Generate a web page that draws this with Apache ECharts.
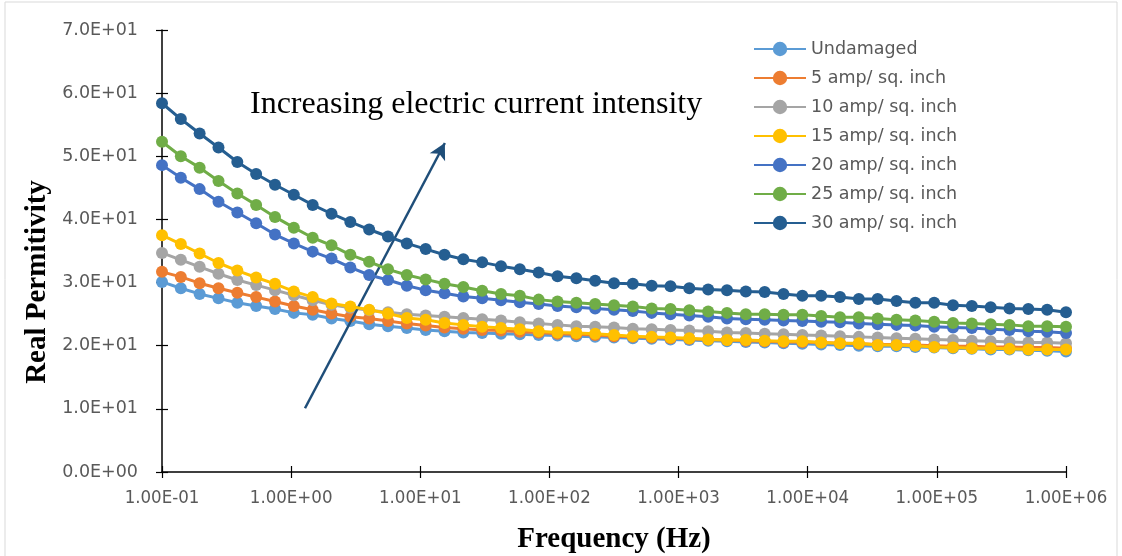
<!DOCTYPE html>
<html>
<head>
<meta charset="utf-8">
<script src="https://cdn.jsdelivr.net/npm/echarts@6/dist/echarts.min.js"></script>
<style>
html,body{margin:0;padding:0;background:#fff;}
#chart{width:1122px;height:556px;}
</style>
</head>
<body>
<div id="chart"></div>
<script>
// Frequency (Hz)
var freqHz = [0.1, 0.1399, 0.1956, 0.2738, 0.3831, 0.5359, 0.7499, 1.049, 1.468, 2.054,
  2.873, 4.019, 5.623, 7.867, 11.01, 15.40, 21.54, 30.14, 42.17, 59.00,
  82.54, 115.5, 161.6, 226.0, 316.2, 442.4, 619.0, 866.0, 1211, 1695,
  2371, 3318, 4642, 6494, 9085, 12711, 17783, 24879, 34807, 48697,
  68129, 95316, 133352, 186566, 261016, 365174, 510897, 714765, 1000000];

var undamaged = [30.1, 29.1, 28.2, 27.5, 26.8, 26.3, 25.8, 25.2, 24.9, 24.3,
  23.9, 23.4, 23.1, 22.8, 22.5, 22.3, 22.1, 22.0, 21.9, 21.8,
  21.7, 21.6, 21.5, 21.4, 21.3, 21.2, 21.1, 21.0, 20.9, 20.8,
  20.7, 20.6, 20.5, 20.4, 20.3, 20.2, 20.1, 20.0, 19.9, 19.9,
  19.8, 19.7, 19.6, 19.5, 19.4, 19.4, 19.3, 19.2, 19.1];
var amp5 = [31.7, 30.9, 29.9, 29.1, 28.4, 27.7, 27.0, 26.3, 25.7, 25.1,
  24.6, 24.3, 23.9, 23.5, 23.2, 22.9, 22.7, 22.5, 22.4, 22.2,
  22.1, 21.9, 21.8, 21.7, 21.5, 21.4, 21.3, 21.2, 21.1, 21.0,
  20.9, 20.8, 20.7, 20.6, 20.6, 20.5, 20.4, 20.3, 20.2, 20.2,
  20.1, 20.0, 19.9, 19.9, 19.8, 19.8, 19.7, 19.7, 19.6];
var amp10 = [34.7, 33.6, 32.5, 31.4, 30.4, 29.6, 28.8, 28.0, 27.2, 26.5,
  26.0, 25.6, 25.3, 25.0, 24.8, 24.6, 24.4, 24.2, 24.0, 23.7,
  23.5, 23.3, 23.1, 23.0, 22.9, 22.7, 22.6, 22.5, 22.4, 22.3,
  22.1, 22.0, 21.9, 21.8, 21.7, 21.6, 21.5, 21.4, 21.3, 21.2,
  21.1, 21.0, 20.9, 20.8, 20.7, 20.6, 20.5, 20.5, 20.4];
var amp15 = [37.5, 36.1, 34.6, 33.1, 31.9, 30.8, 29.8, 28.6, 27.7, 26.7,
  26.2, 25.7, 25.1, 24.4, 24.1, 23.6, 23.3, 23.0, 22.8, 22.6,
  22.3, 22.1, 22.0, 21.9, 21.7, 21.5, 21.4, 21.3, 21.2, 21.0,
  20.9, 20.9, 20.8, 20.7, 20.7, 20.5, 20.4, 20.4, 20.1, 20.1,
  20.0, 19.8, 19.7, 19.6, 19.6, 19.5, 19.4, 19.4, 19.4];
var amp20 = [48.6, 46.6, 44.8, 42.8, 41.1, 39.4, 37.6, 36.2, 34.9, 33.8,
  32.4, 31.2, 30.4, 29.5, 28.8, 28.3, 27.8, 27.5, 27.2, 26.9,
  26.6, 26.3, 26.1, 25.9, 25.7, 25.5, 25.2, 25.0, 24.8, 24.6,
  24.3, 24.2, 24.1, 24.0, 23.9, 23.8, 23.7, 23.5, 23.4, 23.3,
  23.2, 23.0, 22.9, 22.8, 22.6, 22.5, 22.3, 22.2, 22.0];
var amp25 = [52.3, 50.0, 48.2, 46.1, 44.1, 42.3, 40.4, 38.7, 37.1, 35.9,
  34.4, 33.3, 32.1, 31.2, 30.5, 29.8, 29.3, 28.7, 28.2, 27.9,
  27.3, 27.0, 26.8, 26.6, 26.4, 26.2, 25.9, 25.8, 25.6, 25.4,
  25.2, 25.0, 25.0, 24.9, 24.9, 24.7, 24.5, 24.5, 24.3, 24.1,
  24.0, 23.8, 23.6, 23.5, 23.4, 23.3, 23.1, 23.1, 23.0];
var amp30 = [58.4, 55.9, 53.6, 51.4, 49.1, 47.2, 45.5, 43.9, 42.3, 40.9,
  39.6, 38.4, 37.3, 36.2, 35.3, 34.4, 33.7, 33.2, 32.6, 32.1,
  31.6, 31.0, 30.7, 30.3, 29.9, 29.8, 29.5, 29.4, 29.1, 28.9,
  28.8, 28.6, 28.5, 28.2, 27.9, 27.9, 27.7, 27.4, 27.4, 27.1,
  26.8, 26.8, 26.4, 26.3, 26.1, 25.9, 25.8, 25.7, 25.3];

var seriesNames = ['Undamaged', '5 amp/ sq. inch', '10 amp/ sq. inch', '15 amp/ sq. inch',
  '20 amp/ sq. inch', '25 amp/ sq. inch', '30 amp/ sq. inch'];
var seriesColors = ['#5B9BD5', '#ED7D31', '#A5A5A5', '#FFC000', '#4472C4', '#70AD47', '#255E91'];
var seriesValues = [undamaged, amp5, amp10, amp15, amp20, amp25, amp30];

// annotation arrow ends (data space: Hz, permittivity)
var arrowStart = [1.28, 10.1];
var arrowEnd = [15.5, 52.1];
var annotationText = 'Increasing electric current intensity';
var xTitle = 'Frequency (Hz)';
var yTitle = 'Real Permitivity';

function sci(v, digits) {
  if (v === 0) return (0).toFixed(digits) + 'E+00';
  var e = Math.floor(Math.log10(Math.abs(v)) + 1e-9);
  var m = v / Math.pow(10, e);
  return m.toFixed(digits) + 'E' + (e < 0 ? '-' : '+') + String(Math.abs(e)).padStart(2, '0');
}

var chart = echarts.init(document.getElementById('chart'), null, {renderer: 'canvas'});

var series = seriesValues.map(function (vals, k) {
  return {
    name: seriesNames[k],
    type: 'line',
    xAxisIndex: 0,
    yAxisIndex: 0,
    data: freqHz.map(function (f, i) { return [f, vals[i]]; }),
    symbol: 'circle',
    symbolSize: 12,
    lineStyle: {color: seriesColors[k], width: 3},
    itemStyle: {color: seriesColors[k]},
    z: 2 + k
  };
});
series[6].markLine = {
  silent: true,
  symbol: ['none', 'arrow'],
  symbolSize: [13, 16],
  label: {show: false},
  lineStyle: {color: '#1F4E79', width: 2.5, type: 'solid'},
  data: [[{coord: arrowStart}, {coord: arrowEnd}]]
};

chart.setOption({
  animation: false,
  backgroundColor: '#fff',
  grid: {left: 162, right: 56, top: 30, bottom: 84, containLabel: false, outerBoundsMode: 'none'},
  legend: {
    orient: 'vertical',
    left: 748,
    top: 35,
    itemWidth: 52,
    itemHeight: 18,
    itemGap: 11,
    data: seriesNames,
    textStyle: {color: '#595959', fontFamily: 'DejaVu Sans', fontSize: 17.5}
  },
  xAxis: [{
    type: 'log',
    logBase: 10,
    min: 0.1,
    max: 1000000,
    splitNumber: 7,
    name: xTitle,
    nameLocation: 'middle',
    nameGap: 53,
    nameTextStyle: {fontFamily: 'Liberation Serif', fontWeight: 'bold', fontSize: 29, color: '#000'},
    axisLine: {show: true, lineStyle: {color: '#000', width: 1.5}},
    axisTick: {show: true, length: 6, lineStyle: {color: '#000', width: 1.2}},
    minorTick: {show: false},
    splitLine: {show: false},
    axisLabel: {margin: 17, color: '#595959', fontFamily: 'DejaVu Sans Condensed', fontSize: 18.5,
      formatter: function (v) { return sci(v, 2); }}
  }, {
    type: 'log',
    logBase: 10,
    min: 0.1,
    max: 1000000,
    splitNumber: 7,
    position: 'bottom',
    axisLine: {show: false},
    axisTick: {show: true, inside: true, length: 6, lineStyle: {color: '#000', width: 1.2}},
    axisLabel: {show: false},
    splitLine: {show: false}
  }],
  yAxis: [{
    type: 'value',
    min: 0,
    max: 70,
    interval: 10,
    axisLine: {show: true, lineStyle: {color: '#000', width: 1.5}},
    axisTick: {show: true, length: 6, lineStyle: {color: '#000', width: 1.2}},
    splitLine: {show: false},
    axisLabel: {margin: 24, color: '#595959', fontFamily: 'DejaVu Sans', fontSize: 17.5,
      formatter: function (v) { return sci(v, 1); }}
  }, {
    type: 'value',
    min: 0,
    max: 70,
    interval: 10,
    position: 'left',
    axisLine: {show: false},
    axisTick: {show: true, inside: true, length: 6, lineStyle: {color: '#000', width: 1.2}},
    axisLabel: {show: false},
    splitLine: {show: false}
  }],
  graphic: [{
    type: 'rect',
    shape: {x: 5, y: 2, width: 1112, height: 570},
    style: {fill: 'none', stroke: '#d9d9d9', lineWidth: 1},
    silent: true
  }, {
    type: 'text',
    left: 250,
    top: 89,
    style: {text: annotationText, font: '32px "Liberation Serif"', fill: '#000'},
    silent: true
  }, {
    type: 'text',
    x: 38,
    y: 282,
    rotation: Math.PI / 2,
    style: {text: yTitle, font: 'bold 29px "Liberation Serif"', fill: '#000', align: 'center', verticalAlign: 'middle'},
    silent: true
  }],
  series: series
});
</script>
</body>
</html>
